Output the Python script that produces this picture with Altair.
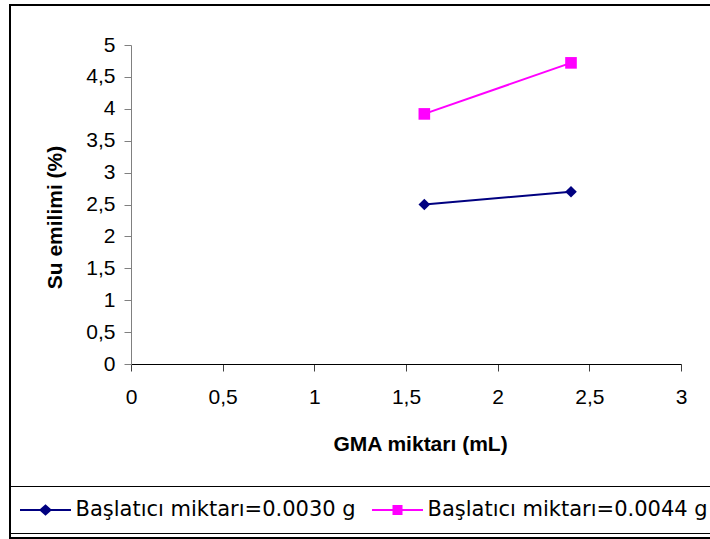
import altair as alt
import pandas as pd

# ---- data ----
series_names = ["Başlatıcı miktarı=0.0030 g", "Başlatıcı miktarı=0.0044 g"]
gma_ml = [1.6, 2.4]
su_0030 = [2.5, 2.7]
su_0044 = [3.92, 4.72]
x_ticks = [0, 0.5, 1, 1.5, 2, 2.5, 3]
y_ticks = [0, 0.5, 1, 1.5, 2, 2.5, 3, 3.5, 4, 4.5, 5]
series_colors = ["#000080", "#FF00FF"]
plot_shapes = ["diamond", "square"]
legend_shapes = [
    "M-2.55,0H2.55M-0.5,0L0,-0.45L0.5,0L0,0.45Z",
    "M-2.55,0H2.55M-0.4,-0.4H0.4V0.4H-0.4Z",
]

rows = []
for name, vals in zip(series_names, [su_0030, su_0044]):
    for xv, yv in zip(gma_ml, vals):
        rows.append({"gma": xv, "su": yv, "series": name})
df = pd.DataFrame(rows)

FONT = "Liberation Sans"
LEGEND_FONT = "DejaVu Sans"
comma_expr = "replace(format(datum.value, '.1~f'), '.', ',')"

x_enc = alt.X(
    "gma:Q",
    scale=alt.Scale(domain=[0, 3], nice=False, zero=False),
    axis=alt.Axis(
        values=x_ticks, labelExpr=comma_expr, title="GMA miktarı (mL)",
        grid=False, domainColor="#000000", tickColor="#404040", tickSize=7,
        labelPadding=15, labelFontSize=21, labelFont=FONT, labelColor="#000000",
        titleFont=FONT, titleFontSize=21, titleFontWeight="bold", titleColor="#000000",
        titleX=289, titleY=80, titleBaseline="middle", titleAlign="center",
        labelFlush=False, labelOverlap=False,
    ),
)
y_enc = alt.Y(
    "su:Q",
    scale=alt.Scale(domain=[0, 5], nice=False, zero=False),
    axis=alt.Axis(
        values=y_ticks, labelExpr=comma_expr, title="Su emilimi (%)",
        grid=False, domainColor="#808080", tickColor="#808080", tickSize=7,
        labelPadding=9, labelFontSize=21, labelFont=FONT, labelColor="#000000",
        titleFont=FONT, titleFontSize=21, titleFontWeight="bold", titleColor="#000000",
        titleX=-76, titleY=172, titleBaseline="middle", titleAlign="center",
        labelFlush=False, labelOverlap=False,
    ),
)

color_scale = alt.Scale(domain=series_names, range=series_colors)

base = alt.Chart(df)

frame = base.mark_rect(fillOpacity=0, stroke="#000000", strokeWidth=2).encode(
    x=alt.value(-121), x2=alt.value(620), y=alt.value(-40), y2=alt.value(493)
)

lines = base.mark_line(strokeWidth=2).encode(
    x=x_enc, y=y_enc,
    color=alt.Color("series:N", scale=color_scale, legend=None),
)

points = base.mark_point(filled=True, opacity=1, size=135).encode(
    x=x_enc, y=y_enc,
    color=alt.Color("series:N", scale=color_scale, legend=None),
    shape=alt.Shape("series:N", scale=alt.Scale(domain=series_names, range=plot_shapes), legend=None),
)

leg = alt.Legend(
    title=None, orient="none", direction="horizontal", legendX=-121, legendY=441,
    labelFont=LEGEND_FONT, labelFontSize=21, labelColor="#000000", labelLimit=0,
    symbolSize=400, symbolStrokeWidth=2, symbolOffset=11.5, labelOffset=19,
    columnPadding=12, padding=13, strokeColor="#000000",
)

legend_layer = base.transform_filter("false").mark_point(filled=True, opacity=1).encode(
    x=x_enc, y=y_enc,
    fill=alt.Fill("series:N", scale=color_scale, legend=leg),
    stroke=alt.Stroke("series:N", scale=color_scale, legend=leg),
    shape=alt.Shape("series:N", scale=alt.Scale(domain=series_names, range=legend_shapes), legend=leg),
)

chart = alt.layer(frame, lines, points, legend_layer).resolve_scale(
    shape="independent", fill="independent", stroke="independent"
).properties(
    width=550, height=319,
    autosize=alt.AutoSizeParams(type="none"),
    padding={"left": 131, "top": 45, "right": 29, "bottom": 175},
    background="#ffffff",
).configure_view(stroke=None)

chart.save("out.html", embed_options={"renderer": "svg", "actions": False})
